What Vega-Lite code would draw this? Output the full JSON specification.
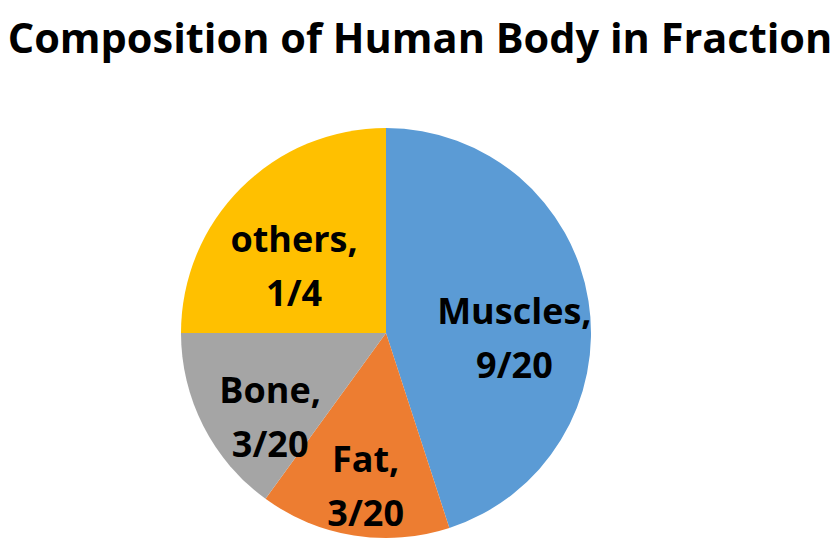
{
  "$schema": "https://vega.github.io/schema/vega-lite/v6.json",
  "width": 772,
  "height": 410,
  "autosize": {"type": "none"},
  "padding": {"left": 0, "top": 128, "right": 68, "bottom": 14},
  "background": "white",
  "title": {
    "text": "Composition of Human Body in Fraction",
    "font": "Open Sans",
    "fontSize": 41.5,
    "fontWeight": "bold",
    "color": "#000000",
    "anchor": "middle",
    "frame": "group",
    "baseline": "alphabetic",
    "offset": 34,
    "dx": 34
  },
  "data": {
    "values": [
      {"name": "Muscles", "frac": "9/20", "value": 0.45, "idx": 1},
      {"name": "Fat", "frac": "3/20", "value": 0.15, "idx": 2},
      {"name": "Bone", "frac": "3/20", "value": 0.15, "idx": 3},
      {"name": "others", "frac": "1/4", "value": 0.25, "idx": 4}
    ]
  },
  "transform": [
    {"calculate": "datum.name + ',\\n' + datum.frac", "as": "label"}
  ],
  "encoding": {
    "theta": {"field": "value", "type": "quantitative", "stack": true},
    "order": {"field": "idx", "type": "quantitative"},
    "color": {
      "field": "name",
      "type": "nominal",
      "scale": {
        "domain": ["Muscles", "Fat", "Bone", "others"],
        "range": ["#5B9BD5", "#ED7D31", "#A5A5A5", "#FFC000"]
      },
      "legend": null
    }
  },
  "layer": [
    {"mark": {"type": "arc", "outerRadius": 205}},
    {
      "mark": {
        "type": "text",
        "radius": 130,
        "font": "Open Sans",
        "fontSize": 36,
        "fontWeight": "bold",
        "lineBreak": "\n",
        "lineHeight": 54,
        "align": "center",
        "baseline": "middle"
      },
      "encoding": {
        "text": {"field": "label", "type": "nominal"},
        "color": {"value": "#000000"}
      }
    }
  ],
  "config": {"view": {"stroke": null}}
}
